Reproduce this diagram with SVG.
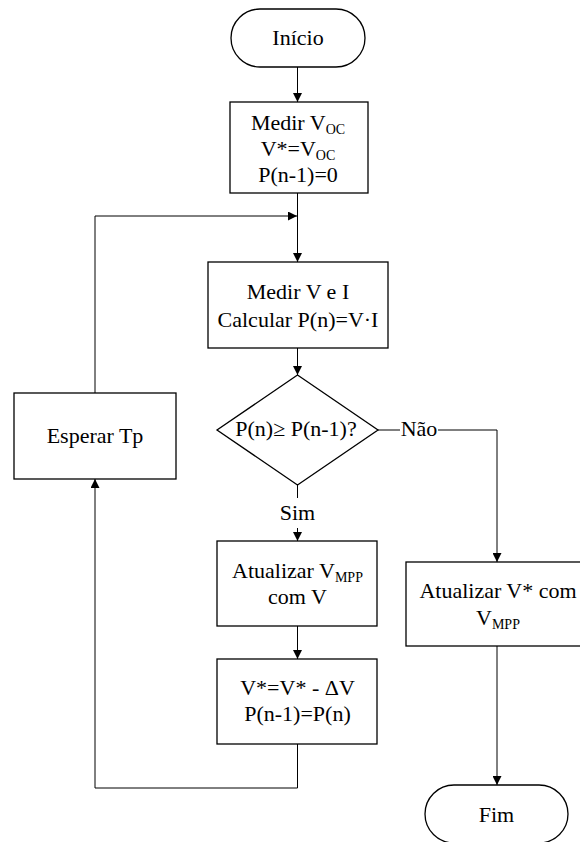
<svg xmlns="http://www.w3.org/2000/svg" width="580" height="842" viewBox="0 0 580 842">
<style>
.s{fill:#fff;stroke:#000;stroke-width:1.3}
.c{fill:none;stroke:#000;stroke-width:1}
.t{font-size:22px;fill:#000;text-anchor:middle}
.sub{font-size:14px}
</style>
<defs>
<marker id="ah" markerWidth="10" markerHeight="9" refX="9" refY="4.5" orient="auto" markerUnits="userSpaceOnUse">
<path d="M0,0 L9,4.5 L0,9 Z" fill="#000"/>
</marker>
</defs>
<rect width="580" height="842" fill="#fff"/>
<g font-family="'Liberation Serif', 'DejaVu Serif', serif" class="t">
<g id="connectors">
<line class="c" x1="297.5" y1="67" x2="297.5" y2="102" marker-end="url(#ah)"/>
<line class="c" x1="297.5" y1="193" x2="297.5" y2="262" marker-end="url(#ah)"/>
<polyline class="c" points="95,393 95,216 297,216" marker-end="url(#ah)"/>
<line class="c" x1="297.5" y1="348" x2="297.5" y2="375" marker-end="url(#ah)"/>
<line class="c" x1="297.5" y1="485" x2="297.5" y2="498"/>
<line class="c" x1="297.5" y1="528" x2="297.5" y2="541" marker-end="url(#ah)"/>
<line class="c" x1="297.5" y1="626" x2="297.5" y2="659" marker-end="url(#ah)"/>
<polyline class="c" points="297.5,744 297.5,788 95,788 95,479" marker-end="url(#ah)"/>
<line class="c" x1="378" y1="430" x2="400" y2="430"/>
<polyline class="c" points="438,430 497,430 497,562" marker-end="url(#ah)"/>
<line class="c" x1="497" y1="646" x2="497" y2="785" marker-end="url(#ah)"/>
<text x="297.5" y="520">Sim</text>
<text x="419" y="436">Não</text>
</g>
<g id="inicio">
<rect class="s" x="231" y="9" width="134" height="58" rx="29" ry="29"/>
<text x="298" y="45">Início</text>
</g>
<g id="medir-voc">
<rect class="s" x="230" y="102" width="138" height="91"/>
<text x="298" y="130">Medir V<tspan class="sub" dy="4">OC</tspan></text>
<text x="298" y="156">V*=V<tspan class="sub" dy="4">OC</tspan></text>
<text x="298" y="182">P(n-1)=0</text>
</g>
<g id="medir-vi">
<rect class="s" x="208" y="262" width="180" height="86"/>
<text x="298" y="299">Medir V e I</text>
<text x="298" y="327">Calcular P(n)=V·I</text>
</g>
<g id="decisao">
<polygon class="s" points="297.5,375 378,430 297.5,485 217,430"/>
<text x="296" y="436">P(n)≥ P(n-1)?</text>
</g>
<g id="esperar">
<rect class="s" x="14" y="393" width="162" height="86"/>
<text x="95" y="443">Esperar Tp</text>
</g>
<g id="atualizar-vmpp">
<rect class="s" x="217" y="541" width="160" height="85"/>
<text x="297.5" y="578">Atualizar V<tspan class="sub" dy="4">MPP</tspan></text>
<text x="297.5" y="604">com V</text>
</g>
<g id="atualizar-vstar">
<rect class="s" x="217" y="659" width="160" height="85"/>
<text x="297.5" y="695">V*=V* - ΔV</text>
<text x="297.5" y="721">P(n-1)=P(n)</text>
</g>
<g id="atualizar-v">
<rect class="s" x="406" y="562" width="182" height="84"/>
<text x="498" y="598">Atualizar V* com</text>
<text x="498" y="625">V<tspan class="sub" dy="4">MPP</tspan></text>
</g>
<g id="fim">
<rect class="s" x="425" y="785" width="143" height="58" rx="29" ry="29"/>
<text x="496.5" y="822">Fim</text>
</g>
</g>
</svg>
